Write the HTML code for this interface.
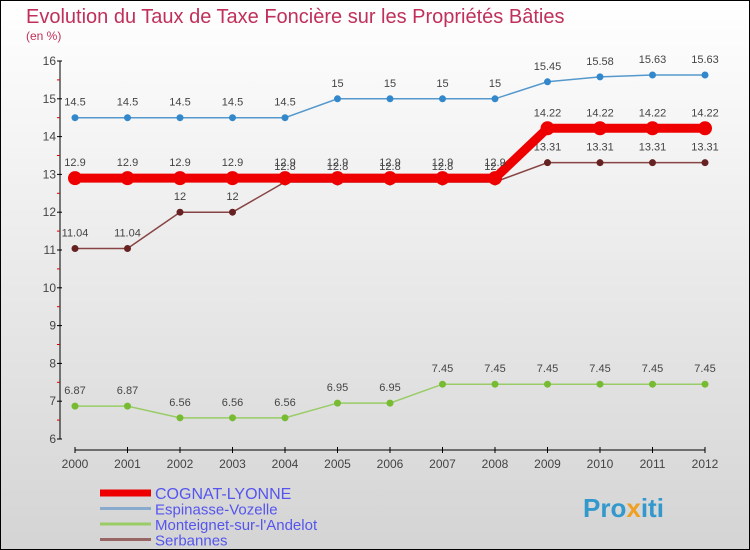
<!DOCTYPE html>
<html><head><meta charset="utf-8"><style>
body{margin:0;}
#c{width:750px;height:550px;position:relative;overflow:hidden;}
svg text{font-family:"Liberation Sans",sans-serif;}
</style></head><body>
<div id="c">
<svg id="s" width="750" height="550" xmlns="http://www.w3.org/2000/svg">
<defs><linearGradient id="bg" x1="0" y1="0" x2="0" y2="1"><stop offset="0" stop-color="#ffffff"/><stop offset="1" stop-color="#d4d4d4"/></linearGradient></defs>
<rect x="0.5" y="0.5" width="749" height="549" fill="url(#bg)" stroke="#000"/>
<text x="26" y="23" font-size="20" fill="#c0305a">Evolution du Taux de Taxe Foncière sur les Propriétés Bâties</text>
<text x="26" y="40" font-size="12" fill="#c0305a">(en %)</text>
<g id="axes"></g><g id="series"></g><g id="legend"></g>
<text x="583" y="517" font-size="26" font-weight="bold" fill="#3399cc">Pro<tspan fill="#f0a020">x</tspan>iti</text>
</svg></div>
<script>
const years=[2000,2001,2002,2003,2004,2005,2006,2007,2008,2009,2010,2011,2012];
const yTicks=[6,7,8,9,10,11,12,13,14,15,16];
const cognat=[12.9,12.9,12.9,12.9,12.9,12.9,12.9,12.9,12.9,14.22,14.22,14.22,14.22];
const espinasse=[14.5,14.5,14.5,14.5,14.5,15,15,15,15,15.45,15.58,15.63,15.63];
const monteignet=[6.87,6.87,6.56,6.56,6.56,6.95,6.95,7.45,7.45,7.45,7.45,7.45,7.45];
const serbannes=[11.04,11.04,12,12,12.8,12.8,12.8,12.8,12.8,13.31,13.31,13.31,13.31];
const names=["COGNAT-LYONNE","Espinasse-Vozelle","Monteignet-sur-l'Andelot","Serbannes"];
const NS="http://www.w3.org/2000/svg";
const X=i=>75+i*52.5, Y=v=>439-(v-6)*37.8;
function mk(p,t,a){const e=document.createElementNS(NS,t);for(const k in a)e.setAttribute(k,a[k]);p.appendChild(e);return e;}
const ax=document.getElementById('axes');
let l=mk(ax,'line',{x1:60,y1:61,x2:60,y2:439,stroke:'#000'});


l=mk(ax,'line',{x1:75,y1:450,x2:705,y2:450,stroke:'#000'});


yTicks.forEach(v=>{mk(ax,'line',{x1:57,x2:62,y1:Y(v),y2:Y(v),stroke:'#000'});
 if(v<16)mk(ax,'line',{x1:57,x2:60,y1:Y(v+0.5),y2:Y(v+0.5),stroke:'#d00'});
 const t=mk(ax,'text',{x:56,y:Y(v)+4,'font-size':12,fill:'#444','text-anchor':'end'});t.textContent=v;
 
 });
years.forEach((y,i)=>{mk(ax,'line',{x1:X(i),x2:X(i),y1:447,y2:453,stroke:'#000'});
 const t=mk(ax,'text',{x:X(i),y:468,'font-size':12,fill:'#444','text-anchor':'middle'});t.textContent=y;
 
 });
const sg=document.getElementById('series');
function draw(vals,color,dot,w,r,name){
 const g=mk(sg,'g',{});
 
 
 mk(g,'polyline',{points:vals.map((v,i)=>X(i)+','+Y(v)).join(' '),fill:'none',stroke:color,'stroke-width':w});
 vals.forEach((v,i)=>{const c=mk(g,'circle',{cx:X(i),cy:Y(v),r:r,fill:dot});
  
  
  const t=mk(g,'text',{x:X(i),y:Y(v)-12,'font-size':11,fill:'#444','text-anchor':'middle'});t.textContent=String(v).replace(/^(\d+\.\d)0$/,'$1');
  
  });
}
draw(monteignet,'#99cc66','#77bb33',1.5,3.5,'series-monteignet');
draw(serbannes,'#884444','#662222',1.5,3.5,'series-serbannes');
draw(espinasse,'#5599cc','#3388cc',1.5,3.5,'series-espinasse');
draw(cognat,'#ee0000','#ee0000',9,7,'series-cognat');
const lg=document.getElementById('legend');
const lc=['#ee0000','#88aacc','#99cc66','#996666'],lw=[7,3,3,3],fs=[16,15,15,15];
names.forEach((n,i)=>{const y=493+i*15.5;
 const g=mk(lg,'g',{});
 
 
 mk(g,'line',{x1:100,x2:151,y1:y,y2:y,stroke:lc[i],'stroke-width':lw[i]});
 const t=mk(g,'text',{x:155,y:y+6,'font-size':fs[i],fill:'#5555ee'});t.textContent=n;});
</script></body></html>
